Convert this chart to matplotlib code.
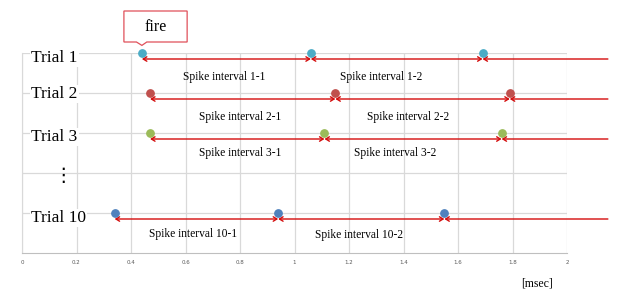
import matplotlib.pyplot as plt
from matplotlib.patches import FancyArrowPatch, Polygon

# spike times [msec] for each trial
trials = ['Trial 1', 'Trial 2', 'Trial 3', 'Trial 10']
trial_rows = [5, 4, 3, 1]
spikes_1 = [0.44, 1.06, 1.69]
spikes_2 = [0.47, 1.15, 1.79]
spikes_3 = [0.47, 1.11, 1.76]
spikes_10 = [0.34, 0.94, 1.55]
spike_colors = ['#4bacc6', '#c0504d', '#9bbb59', '#4f81bd']

interval_labels = ['Spike interval 1-1', 'Spike interval 1-2',
                   'Spike interval 2-1', 'Spike interval 2-2',
                   'Spike interval 3-1', 'Spike interval 3-2',
                   'Spike interval 10-1', 'Spike interval 10-2']
x_ticks = [0, 0.2, 0.4, 0.6, 0.8, 1, 1.2, 1.4, 1.6, 1.8, 2]
x_tick_labels = ['0', '0.2', '0.4', '0.6', '0.8', '1', '1.2', '1.4', '1.6', '1.8', '2']

serif = 'Liberation Serif'
red = '#d40c0c'

fig = plt.figure(figsize=(6.34, 3.04), dpi=100)
ax = fig.add_axes([22 / 634, 1 - 253 / 304, 545 / 634, 200 / 304])
ax.set_xlim(0, 2)
ax.set_ylim(0, 5)

ax.set_xticks(x_ticks)
ax.set_xticklabels(x_tick_labels, fontsize=4, color='#595959')
ax.set_yticks([1, 2, 3, 4, 5])
ax.set_yticklabels([])
ax.tick_params(length=0, pad=5)
ax.grid(True, color='#d9d9d9', lw=0.9)
ax.set_axisbelow(True)
for s in ['top', 'right']:
    ax.spines[s].set_visible(False)
ax.spines['left'].set_color('#d9d9d9')
ax.spines['bottom'].set_color('#bfbfbf')

all_spikes = [spikes_1, spikes_2, spikes_3, spikes_10]
label_y_off = [0.125, 0.025, 0.1, 0.125]
line_off = 0.15
x_end = 2.15
head = 'head_length=2.6,head_width=1.6'

for i, (name, row, sp, col) in enumerate(zip(trials, trial_rows, all_spikes, spike_colors)):
    ax.scatter(sp, [row] * len(sp), s=28, color=col, zorder=4, clip_on=False)
    yl = row - line_off
    for a, b in zip(sp[:-1], sp[1:]):
        ax.add_patch(FancyArrowPatch((a, yl), (b, yl), arrowstyle='<->,' + head,
                                     color=red, lw=1.0, shrinkA=0, shrinkB=0, zorder=3, clip_on=False))
    ax.add_patch(FancyArrowPatch((sp[-1], yl), (x_end, yl), arrowstyle='<-,' + head,
                                 color=red, lw=1.0, shrinkA=0, shrinkB=0, zorder=3, clip_on=False))
    ax.text(0.033, row - label_y_off[i], name, fontsize=12.5, family=serif, ha='left', va='center',
            bbox=dict(facecolor='white', edgecolor='none', pad=1), zorder=2)

# interval label positions (x, y)
label_pos = [(0.741, 4.4), (1.317, 4.4), (0.80, 3.4), (1.417, 3.4),
             (0.80, 2.5), (1.369, 2.5), (0.628, 0.475), (1.237, 0.45)]
for txt, (x, y) in zip(interval_labels, label_pos):
    ax.text(x, y, txt, fontsize=8.3, family=serif, ha='center', va='center', zorder=5)

ax.text(0.15, 1.93, '\u22ee', fontsize=14, ha='center', va='center', color='black')

# "fire" callout pointing at the first spike
callout = Polygon([(0.374, 6.05), (0.606, 6.05), (0.606, 5.275), (0.458, 5.275), (0.44, 5.19),
                   (0.42, 5.275), (0.374, 5.275)], closed=True, facecolor='white',
                  edgecolor='#e0505a', lw=0.9, clip_on=False, zorder=6)
ax.add_patch(callout)
ax.text(0.49, 5.66, 'fire', fontsize=11.5, family=serif, ha='center', va='center', zorder=7)

fig.text(537 / 634, 1 - 283 / 304, '[msec]', fontsize=8.5, family=serif, ha='center', va='center')

fig.savefig('out.png', dpi=100)
